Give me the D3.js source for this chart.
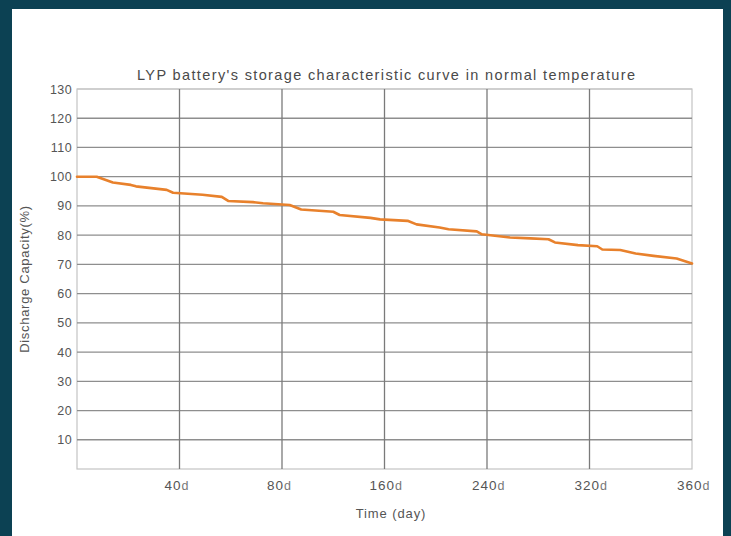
<!DOCTYPE html>
<html>
<head>
<meta charset="utf-8">
<script src="https://cdn.jsdelivr.net/npm/d3@7"></script>
<style>
  html, body { margin: 0; padding: 0; background: #0c4153; }
  svg { display: block; }
</style>
</head>
<body>
<svg id="chart" width="731" height="536"></svg>
<script>
// ---- data ----
const title = "LYP battery's storage characteristic curve in normal temperature";
const xTitle = "Time (day)";
const yTitle = "Discharge Capacity(%)";
const dayBreaks = [0, 40, 80, 160, 240, 320, 360];        // axis positions (equally spaced)
const xTickNums = ["40", "80", "160", "240", "320", "360"];
const xTickUnit = "d";
const yTicks = [10, 20, 30, 40, 50, 60, 70, 80, 90, 100, 110, 120, 130];
const days = [0, 7.7, 14, 21, 23, 35, 37.5, 49, 56.5, 59, 68.7, 72.6, 80, 86, 95, 120, 125, 149, 156.5,
              178, 185, 203, 210, 232, 236, 258, 274, 288, 293, 311, 323, 325, 332, 338, 345, 354, 360];
const capacity = [100, 100, 98.0, 97.2, 96.7, 95.5, 94.5, 93.8, 93.1, 91.7, 91.3, 90.9, 90.5, 90.3, 88.8, 88.0, 86.9, 85.9, 85.4,
              84.9, 83.7, 82.6, 82.0, 81.3, 80.3, 79.2, 78.9, 78.6, 77.5, 76.6, 76.2, 75.1, 74.9, 73.7, 72.9, 72.0, 70.3];

// ---- layout ----
const svg = d3.select("#chart");
const panel = { x: 12, y: 9, w: 711, h: 527 };
const plot = { left: 77, right: 692, top: 89, bottom: 469 };
const font = "'Liberation Sans', Arial, sans-serif";

svg.append("rect").attr("x", 0).attr("y", 0).attr("width", 731).attr("height", 536).attr("fill", "#0c4153");
svg.append("rect").attr("x", panel.x).attr("y", panel.y).attr("width", panel.w).attr("height", panel.h).attr("fill", "#ffffff");

const n = dayBreaks.length - 1;
const x = d3.scaleLinear()
  .domain(dayBreaks)
  .range(dayBreaks.map((d, i) => plot.left + (plot.right - plot.left) * i / n));
const y = d3.scaleLinear().domain([0, 130]).range([plot.bottom, plot.top]);

// outer box
svg.append("rect")
  .attr("x", plot.left).attr("y", plot.top)
  .attr("width", plot.right - plot.left).attr("height", plot.bottom - plot.top)
  .attr("fill", "none").attr("stroke", "#c4c4c4").attr("stroke-width", 1.2);

// horizontal grid
svg.append("g").selectAll("line").data(yTicks.filter(v => v < 130)).join("line")
  .attr("x1", plot.left).attr("x2", plot.right)
  .attr("y1", d => y(d)).attr("y2", d => y(d))
  .attr("stroke", "#8e8e8e").attr("stroke-width", 1.3);
svg.append("line").attr("x1", plot.left).attr("x2", plot.right)
  .attr("y1", y(130)).attr("y2", y(130)).attr("stroke", "#c4c4c4").attr("stroke-width", 1.2);

// vertical grid
svg.append("g").selectAll("line").data(dayBreaks.slice(1, -1)).join("line")
  .attr("x1", d => x(d)).attr("x2", d => x(d))
  .attr("y1", plot.top).attr("y2", plot.bottom)
  .attr("stroke", "#7a7a7a").attr("stroke-width", 1.3);

// y tick labels
svg.append("g").selectAll("text").data(yTicks).join("text")
  .attr("x", plot.left - 5).attr("y", d => y(d) + 4.5)
  .attr("text-anchor", "end")
  .attr("font-family", font).attr("font-size", 12.5).attr("letter-spacing", 0.4).attr("fill", "#555")
  .text(d => d);

// x tick labels
const xt = svg.append("g").selectAll("text").data(dayBreaks.slice(1)).join("text")
  .attr("x", d => x(d) - 15).attr("y", 490)
  .attr("text-anchor", "start")
  .attr("font-family", font).attr("font-size", 13.5).attr("letter-spacing", 1).attr("fill", "#555");
xt.append("tspan").text((d, i) => xTickNums[i]);
xt.append("tspan").attr("font-size", 12.5).attr("fill", "#777").text(xTickUnit);

// axis titles
svg.append("text").attr("x", 391).attr("y", 518).attr("text-anchor", "middle")
  .attr("font-family", font).attr("font-size", 13).attr("letter-spacing", 0.9).attr("fill", "#555").text(xTitle);
svg.append("text")
  .attr("transform", `translate(29, ${(plot.top + plot.bottom) / 2}) rotate(-90)`)
  .attr("text-anchor", "middle")
  .attr("font-family", font).attr("font-size", 13).attr("letter-spacing", 0.7).attr("fill", "#555").text(yTitle);

// chart title
svg.append("text").attr("x", 386).attr("y", 80).attr("text-anchor", "middle")
  .attr("font-family", font).attr("font-size", 14.5)
  .attr("textLength", 498).attr("lengthAdjust", "spacing")
  .attr("fill", "#4a4a4a").text(title);

// curve
const pts = days.map((d, i) => [d, capacity[i]]);
svg.append("path").datum(pts)
  .attr("fill", "none").attr("stroke", "#e8812c").attr("stroke-width", 2.6)
  .attr("stroke-linejoin", "round").attr("stroke-linecap", "round")
  .attr("d", d3.line().x(d => x(d[0])).y(d => y(d[1])));
</script>
</body>
</html>
